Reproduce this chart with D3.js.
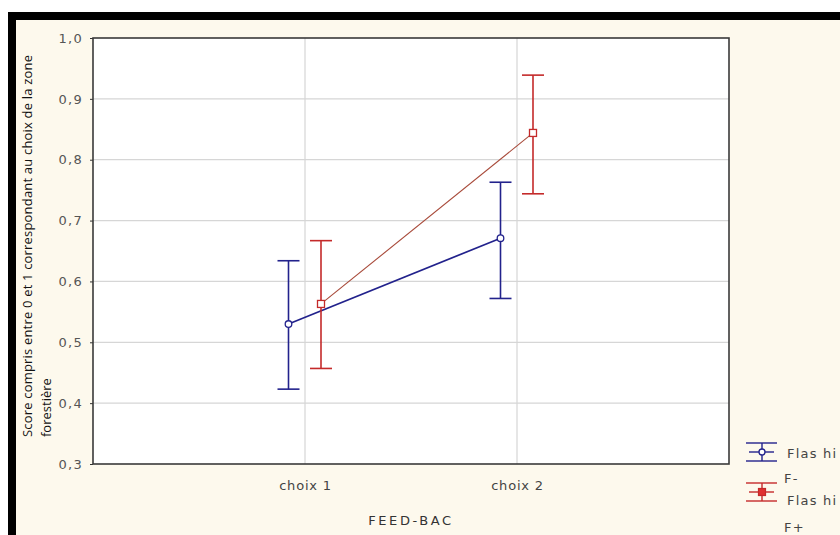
<!DOCTYPE html>
<html><head><meta charset="utf-8">
<script src="https://cdn.jsdelivr.net/npm/d3@7"></script>
<style>
html,body{margin:0;padding:0;background:#fff;}
svg{display:block;}
</style></head>
<body>
<svg id="c" width="840" height="535"></svg>
<script>
// ---- data ----
const categories = ["choix 1", "choix 2"];
const yTicks = [0.3, 0.4, 0.5, 0.6, 0.7, 0.8, 0.9, 1.0];
const seriesNames = [["Flas hi", "F-"], ["Flas hi", "F+"]];
const meanFminus = [0.530, 0.671];
const lowFminus  = [0.423, 0.572];
const highFminus = [0.634, 0.763];
const meanFplus  = [0.563, 0.844];
const lowFplus   = [0.457, 0.744];
const highFplus  = [0.667, 0.939];
const yTitle = ["Score compris entre 0 et 1 correspondant au choix de la zone", "forestière"];
const xTitle = "FEED-BAC";

// ---- layout ----
const svg = d3.select("#c");
const L = 93, R = 729, T = 38, B = 464;
const x = d3.scaleLinear().domain([0, categories.length + 1]).range([L, R]);
const y = d3.scaleLinear().domain([0.3, 1.0]).range([B, T]);
const colors = ["#22228c", "#c42a2a"];
const lineColors = ["#22228c", "#a84a3a"];
const offsets = [-16.5, 16];
const tickFont = "DejaVu Sans, Verdana, sans-serif";

// background
svg.append("rect").attr("width", 840).attr("height", 535).attr("fill", "#fff");
svg.append("rect").attr("x", 8).attr("y", 12).attr("width", 832).attr("height", 523).attr("fill", "#000");
svg.append("rect").attr("x", 16).attr("y", 20).attr("width", 824).attr("height", 515).attr("fill", "#fdf9ed");
svg.append("rect").attr("x", L).attr("y", T).attr("width", R - L).attr("height", B - T).attr("fill", "#fff");

// grid
const g = svg.append("g");
g.selectAll("line.hg").data(yTicks.slice(1, -1)).join("line")
  .attr("x1", L).attr("x2", R).attr("y1", d => y(d)).attr("y2", d => y(d))
  .attr("stroke", "#d6d6d6").attr("stroke-width", 1.2);
g.selectAll("line.vg").data(categories).join("line")
  .attr("x1", (d, i) => x(i + 1)).attr("x2", (d, i) => x(i + 1)).attr("y1", T).attr("y2", B)
  .attr("stroke", "#d6d6d6").attr("stroke-width", 1.2);

// axes
const yAxis = svg.append("g").attr("transform", `translate(${L},0)`)
  .call(d3.axisLeft(y).tickValues(yTicks).tickFormat(d => d3.format(".1f")(d).replace(".", ",")).tickSize(3).tickPadding(7));
yAxis.select(".domain").remove();
yAxis.selectAll("line").attr("stroke", "#333");
yAxis.selectAll("text").attr("font-family", tickFont).attr("font-size", 13).attr("letter-spacing", 1.3).attr("fill", "#555");

const xAxis = svg.append("g").attr("transform", `translate(0,${B})`)
  .call(d3.axisBottom(x).tickValues(categories.map((d, i) => i + 1)).tickFormat((d) => categories[d - 1]).tickSize(0).tickPadding(17));
xAxis.select(".domain").remove();
xAxis.selectAll("text").attr("font-family", tickFont).attr("font-size", 13).attr("letter-spacing", 0.8).attr("fill", "#444");

// frame
svg.append("rect").attr("x", L).attr("y", T).attr("width", R - L).attr("height", B - T)
  .attr("fill", "none").attr("stroke", "#3a3a3a").attr("stroke-width", 1.6);

// titles
svg.append("text").attr("x", (L + R) / 2).attr("y", 525).attr("text-anchor", "middle")
  .attr("font-family", tickFont).attr("font-size", 13).attr("letter-spacing", 2.6)
  .attr("fill", "#333").text(xTitle);
const yt = svg.append("text").attr("transform", "translate(0,437) rotate(-90)")
  .attr("font-family", "Open Sans, sans-serif").attr("font-size", 13).attr("fill", "#111");
yt.append("tspan").attr("x", 0).attr("y", 32).attr("textLength", 382).attr("lengthAdjust", "spacing").text(yTitle[0]);
yt.append("tspan").attr("x", 0).attr("y", 51).text(yTitle[1]);

// series
const series = [
  {mean: meanFminus, low: lowFminus, high: highFminus},
  {mean: meanFplus, low: lowFplus, high: highFplus}
];
const capHalf = 11;
series.forEach((s, si) => {
  const sg = svg.append("g");
  const pts = s.mean.map((m, i) => ({cx: x(i + 1) + offsets[si], m, lo: s.low[i], hi: s.high[i]}));
  sg.selectAll("line.v").data(pts).join("line")
    .attr("x1", d => d.cx).attr("x2", d => d.cx).attr("y1", d => y(d.lo)).attr("y2", d => y(d.hi))
    .attr("stroke", colors[si]).attr("stroke-width", 1.6);
  sg.selectAll("line.ct").data(pts).join("line")
    .attr("x1", d => d.cx - capHalf).attr("x2", d => d.cx + capHalf).attr("y1", d => y(d.hi)).attr("y2", d => y(d.hi))
    .attr("stroke", colors[si]).attr("stroke-width", 1.6);
  sg.selectAll("line.cb").data(pts).join("line")
    .attr("x1", d => d.cx - capHalf).attr("x2", d => d.cx + capHalf).attr("y1", d => y(d.lo)).attr("y2", d => y(d.lo))
    .attr("stroke", colors[si]).attr("stroke-width", 1.6);
  sg.append("path").datum(pts)
    .attr("d", d3.line().x(d => d.cx).y(d => y(d.m)))
    .attr("fill", "none").attr("stroke", lineColors[si]).attr("stroke-width", si === 0 ? 1.7 : 1.1);
  if (si === 0) {
    sg.selectAll("circle").data(pts).join("circle")
      .attr("cx", d => d.cx).attr("cy", d => y(d.m)).attr("r", 3.3)
      .attr("fill", "#fff").attr("stroke", colors[si]).attr("stroke-width", 1.3);
  } else {
    sg.selectAll("rect").data(pts).join("rect")
      .attr("x", d => d.cx - 3.5).attr("y", d => y(d.m) - 3.5).attr("width", 7).attr("height", 7)
      .attr("fill", "#fff").attr("stroke", colors[si]).attr("stroke-width", 1.3);
  }
});

// legend
const lg = svg.append("g");
const legendRows = [{cy: 452, t1: 458, t2: 483}, {cy: 492, t1: 505, t2: 532}];
seriesNames.forEach((nm, si) => {
  const cy = legendRows[si].cy;
  const cx = 762;
  const c = colors[si];
  lg.append("line").attr("x1", cx - 16).attr("x2", cx + 15).attr("y1", cy - 9).attr("y2", cy - 9).attr("stroke", c).attr("stroke-width", 1.4);
  lg.append("line").attr("x1", cx - 16).attr("x2", cx + 15).attr("y1", cy + 9).attr("y2", cy + 9).attr("stroke", c).attr("stroke-width", 1.4);
  lg.append("line").attr("x1", cx - 13).attr("x2", cx + 12).attr("y1", cy).attr("y2", cy).attr("stroke", c).attr("stroke-width", 1.4);
  lg.append("line").attr("x1", cx).attr("x2", cx).attr("y1", cy - 9).attr("y2", cy + 9).attr("stroke", c).attr("stroke-width", 1.4);
  if (si === 0) {
    lg.append("circle").attr("cx", cx).attr("cy", cy).attr("r", 3).attr("fill", "#fff").attr("stroke", c).attr("stroke-width", 1.3);
  } else {
    lg.append("rect").attr("x", cx - 3.5).attr("y", cy - 3.5).attr("width", 7).attr("height", 7).attr("fill", "#e03030").attr("stroke", c).attr("stroke-width", 1.2);
  }
  lg.append("text").attr("x", 787).attr("y", legendRows[si].t1).attr("font-family", tickFont)
    .attr("font-size", 13).attr("letter-spacing", 1.2).attr("fill", "#444").text(nm[0]);
  lg.append("text").attr("x", 784).attr("y", legendRows[si].t2).attr("font-family", tickFont)
    .attr("font-size", 13).attr("letter-spacing", 1.2).attr("fill", "#444").text(nm[1]);
});
</script>
</body></html>
